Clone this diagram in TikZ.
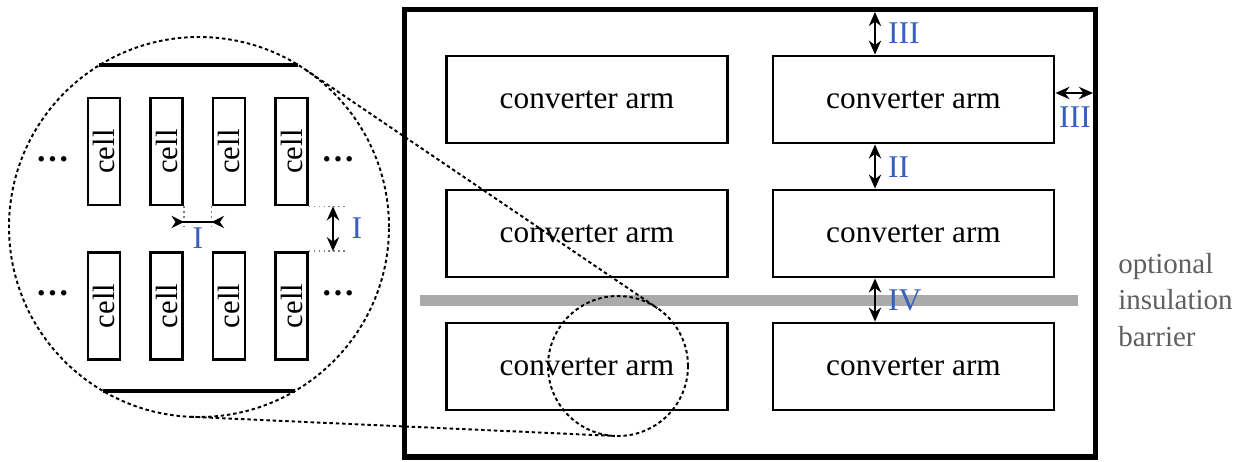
\documentclass[tikz,border=0pt]{standalone}
\usepackage{fontspec}
\setmainfont{Liberation Serif}
\usepackage{graphicx}
\usetikzlibrary{arrows.meta}
\definecolor{lblue}{RGB}{55,95,190}
\definecolor{bargray}{RGB}{170,170,170}
\definecolor{txtgray}{RGB}{95,95,95}
\begin{document}
\begin{tikzpicture}[x=0.02cm,y=0.02cm,
  arm/.style={draw,line width=1.6pt,minimum width=5.62cm,minimum height=1.74cm,inner sep=0pt,font=\fontsize{17.8}{20}\selectfont},
  cellbox/.style={draw,line width=1.5pt,minimum width=0.64cm,minimum height=2.14cm,inner sep=0pt,font=\fontsize{17.5}{20}\selectfont},
  lbl/.style={text=lblue,inner sep=1pt,font=\fontsize{18}{20}\selectfont},
  dblarrow/.style={line width=1.2pt,{Stealth[length=8pt,width=7pt]}-{Stealth[length=8pt,width=7pt]}},
  dashcirc/.style={line width=1.1pt,dash pattern=on 2pt off 1.6pt},
  tick/.style={gray,dotted,line width=0.8pt},
  dots/.style={font=\fontsize{19}{20}\bfseries,inner sep=0pt}]
\useasboundingbox (0,0) rectangle (1242,461);
% insulation barrier
\draw[bargray,line width=0.22cm] (420,160.5) -- (1078,160.5);
% converter arms and frame
\foreach \r/\y in {1/361.5,2/227.5,3/94.5}{
  \node[arm] (a\r1) at (587,\y) {converter arm};
  \node[arm] (a\r2) at (913.5,\y) {converter arm};
}
\node[draw,line width=2.9pt,outer sep=0pt,minimum width=13.82cm,minimum height=8.95cm] (frame) at (750,227.75) {};
% clearances
\coordinate (gx) at (875,0);
\coordinate (gy) at (0,368);
\draw[dblarrow,shorten <=1.4pt] (frame.north -| gx) -- (a12.north -| gx);
\draw[dblarrow,shorten >=1.4pt] (a12.east |- gy) -- (frame.east |- gy);
\draw[dblarrow] (a12.south -| gx) -- (a22.north -| gx);
\draw[dblarrow] (a22.south -| gx) -- (a32.north -| gx);
\node[lbl,anchor=west] (l3a) at (886,428) {III};
\node[lbl] (l3b) at (1075,344) {III};
\node[lbl,anchor=west] (l2) at (886,294) {II};
\node[lbl,anchor=west] (l4) at (886,161) {IV};
\node[anchor=west,align=left,text=txtgray,inner sep=0pt,font=\fontsize{16.5}{20.7}\selectfont] (opt) at (1118,161) {optional\\insulation\\barrier};
% zoom circles
\coordinate (zoom) at (199,234);
\coordinate (spot) at (618,95);
\draw[dashcirc] (zoom) circle (190);
\draw[dashcirc] (spot) circle (70);
\path (zoom) ++(55.88:190) coordinate (za) (spot) ++(55.88:70) coordinate (sa);
\path (zoom) ++(267.42:190) coordinate (zb) (spot) ++(267.42:70) coordinate (sb);
\draw[dashcirc] (za) -- (sa);
\draw[dashcirc] (zb) -- (sb);
% cells
\draw[line width=2pt] (99,396) -- (298,396);
\draw[line width=2pt] (103,70) -- (295,70);
\foreach \r/\y in {1/309.5,2/155}
  \foreach \c/\x in {1/104,2/166.5,3/229,4/291.5}
    \node[cellbox] (c\r\c) at (\x,\y) {\rotatebox{90}{cell}};
\foreach \r/\y in {1/302,2/168}{
  \node[dots] (dl\r) at (52.5,\y) {…};
  \node[dots] (dr\r) at (338,\y) {…};
}
\coordinate (hI) at (0,239);
\coordinate (vI) at (333,0);
\draw[tick] (c12.south east) -- ++(0,-21);
\draw[tick] (c13.south west) -- ++(0,-21);
\draw[line width=1.3pt,{Stealth[reversed,length=7pt,width=7pt]}-{Stealth[reversed,length=7pt,width=7pt]},shorten <=-7pt,shorten >=-7pt] (c12.east |- hI) -- (c13.west |- hI);
\draw[tick] (c14.south east) -- ++(36,0);
\draw[tick] (c24.north east) -- ++(36,0);
\draw[dblarrow] (c14.south -| vI) -- (c24.north -| vI);
\node[lbl] (l1a) at (198,223) {I};
\node[lbl] (l1b) at (357,233) {I};
\end{tikzpicture}
\end{document}
